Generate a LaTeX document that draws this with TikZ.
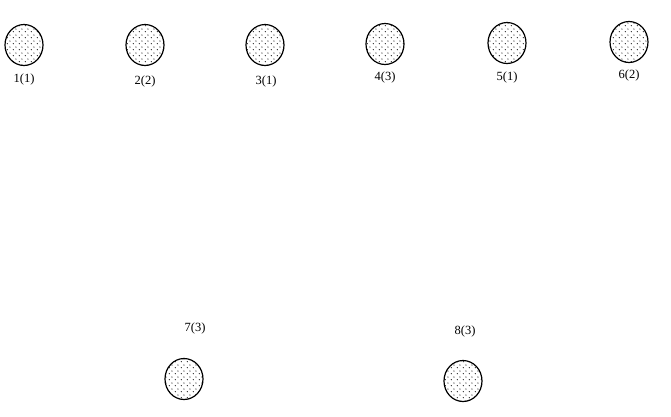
\documentclass[tikz,border=0pt]{standalone}
\usepackage{fontspec}
\setmainfont{Liberation Serif}
\usetikzlibrary{shapes.geometric,patterns.meta}
\tikzdeclarepattern{name=stip, type=uncolored, bottom left={(0pt,0pt)}, top right={(6pt,6pt)}, tile size={(6pt,6pt)},
  code={\fill (1.5pt,1.5pt) circle (0.7pt); \fill (4.5pt,4.5pt) circle (0.7pt);}}
\tikzset{
  blob/.style={ellipse, draw=black, line width=1.2pt, pattern=stip, pattern color=black, minimum width=38pt, minimum height=41pt, inner sep=0pt},
  lab/.style={inner sep=0pt, font=\fontsize{12.5}{14}\selectfont}
}
\begin{document}
\begin{tikzpicture}[x=1pt,y=-1pt]
\useasboundingbox (0,0) rectangle (671,416);
\node[blob] (c1) at (24,45) {};
\node[blob] (c2) at (145,45) {};
\node[blob] (c3) at (265,45) {};
\node[blob] (c4) at (385,44) {};
\node[blob] (c5) at (507,43) {};
\node[blob] (c6) at (629,42) {};
\node[blob] (c7) at (184,379) {};
\node[blob] (c8) at (463,381) {};
\node[lab] (l1) at (24,79) {1(1)};
\node[lab] (l2) at (145,81) {2(2)};
\node[lab] (l3) at (266,81) {3(1)};
\node[lab] (l4) at (385,77) {4(3)};
\node[lab] (l5) at (507,77) {5(1)};
\node[lab] (l6) at (629,75) {6(2)};
\node[lab] (l7) at (195,328) {7(3)};
\node[lab] (l8) at (465,331) {8(3)};
\end{tikzpicture}
\end{document}
